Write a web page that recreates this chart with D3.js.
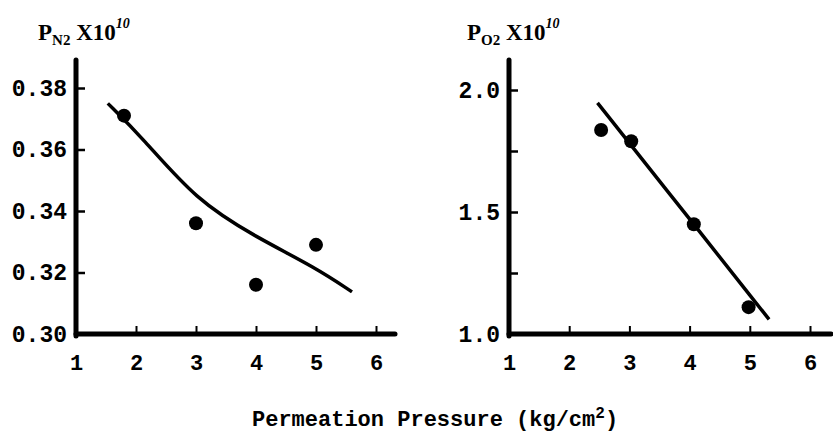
<!DOCTYPE html>
<html>
<head>
<meta charset="utf-8">
<script src="https://cdn.jsdelivr.net/npm/d3@7"></script>
<style>
  body { margin: 0; background: #fff; }
  svg { display: block; }
</style>
</head>
<body>
<svg id="chart" width="833" height="439"></svg>
<script>
"use strict"

// N2 panel
const n2Pressure = [1.8, 3, 4, 5];
const n2Perm = [0.371, 0.336, 0.316, 0.329];
const n2FitX = [1.53, 2.1, 3, 4, 5, 5.6];
const n2FitY = [0.375, 0.364, 0.3435, 0.3315, 0.3215, 0.3137];
const n2YTicks = [0.30, 0.32, 0.34, 0.36, 0.38];

// O2 panel
const o2Pressure = [2.53, 3.03, 4.07, 4.98];
const o2Perm = [1.836, 1.79, 1.45, 1.11];
const o2FitX = [2.47, 3.5, 5.32];
const o2FitY = [1.947, 1.627, 1.06];
const o2YTicks = [1.0, 1.25, 1.5, 1.75, 2.0];
const o2YLabels = {"1": "1.0", "1.5": "1.5", "2": "2.0"};

const xTicks = [1, 2, 3, 4, 5, 6];

const svg = d3.select("#chart");
const fontTick = "'Liberation Mono', 'DejaVu Sans Mono', monospace";
const fontLabel = "'Liberation Serif', 'DejaVu Serif', serif";

function drawPanel(opts) {
    const x = d3.scaleLinear().domain([1, 6]).range(opts.xRange);
    const y = d3.scaleLinear().domain(opts.yDomain).range([334, opts.yTop]);
    const g = svg.append("g");

    // axis lines (thick)
    g.append("line")
        .attr("x1", x(1)).attr("x2", x(1))
        .attr("y1", 60).attr("y2", 336)
        .attr("stroke", "#000").attr("stroke-width", 5).attr("stroke-linecap", "round");
    g.append("line")
        .attr("x1", x(1)).attr("x2", opts.xEnd)
        .attr("y1", 334).attr("y2", 334)
        .attr("stroke", "#000").attr("stroke-width", 5).attr("stroke-linecap", "round");

    // y axis ticks pointing inward
    const yAxis = d3.axisLeft(y)
        .tickValues(opts.yTicks)
        .tickSizeInner(-9).tickSizeOuter(0).tickPadding(8)
        .tickFormat(opts.yFormat);
    const ya = g.append("g").attr("transform", `translate(${x(1)},0)`).call(yAxis);
    ya.select(".domain").remove();
    ya.selectAll("line").attr("stroke-width", 2.5)
        .filter(d => d === opts.yDomain[0]).remove();
    ya.selectAll("text")
        .style("font-family", fontTick).style("font-size", "23px")
        .style("font-weight", "bold").attr("dx", -1);

    // x axis ticks pointing up
    const xAxis = d3.axisBottom(x)
        .tickValues(xTicks)
        .tickSizeInner(-8).tickSizeOuter(0).tickPadding(20)
        .tickFormat(d3.format("d"));
    const xa = g.append("g").attr("transform", "translate(0,334)").call(xAxis);
    xa.select(".domain").remove();
    xa.selectAll("line").attr("stroke-width", 2)
        .filter(d => d === 1).remove();
    xa.selectAll("text")
        .style("font-family", fontTick).style("font-size", "22px").style("font-weight", "bold");

    // fit curve
    const line = d3.line()
        .x(d => x(d[0])).y(d => y(d[1]))
        .curve(d3.curveBasis);
    g.append("path")
        .datum(d3.zip(opts.fitX, opts.fitY))
        .attr("d", line)
        .attr("fill", "none").attr("stroke", "#000").attr("stroke-width", 3.5);

    // data points
    g.selectAll(".pt")
        .data(d3.zip(opts.px, opts.py))
        .enter().append("circle")
        .attr("class", "pt")
        .attr("cx", d => x(d[0]))
        .attr("cy", d => y(d[1]))
        .attr("r", 7)
        .attr("fill", "#000");

    // y label: P_gas X10^10
    const t = g.append("text")
        .attr("x", opts.labelX).attr("y", 40)
        .style("font-family", fontLabel).style("font-size", "23px").style("font-weight", "bold");
    t.append("tspan").text("P");
    t.append("tspan").attr("dy", 5).style("font-size", "15px").text(opts.gas);
    t.append("tspan").attr("dy", -5).text(" X10");
    t.append("tspan").attr("dy", -12).style("font-size", "14px").style("font-style", "italic").text("10");
}

drawPanel({
    xRange: [76, 376], xEnd: 395,
    yDomain: [0.30, 0.38], yTop: 88,
    yTicks: n2YTicks, yFormat: d3.format(".2f"),
    fitX: n2FitX, fitY: n2FitY, px: n2Pressure, py: n2Perm,
    gas: "N2", labelX: 38
});

drawPanel({
    xRange: [509, 810], xEnd: 831,
    yDomain: [1.0, 2.0], yTop: 90,
    yTicks: o2YTicks, yFormat: d => o2YLabels[String(d)] || "",
    fitX: o2FitX, fitY: o2FitY, px: o2Pressure, py: o2Perm,
    gas: "O2", labelX: 467
});

// shared x title
const title = svg.append("text")
    .attr("x", 252).attr("y", 426)
    .style("font-family", fontTick).style("font-size", "22px").style("font-weight", "bold");
title.append("tspan").text("Permeation Pressure (kg/cm");
title.append("tspan").attr("dy", -8).style("font-size", "16px").text("2");
title.append("tspan").attr("dy", 8).text(")");
</script>
</body>
</html>
